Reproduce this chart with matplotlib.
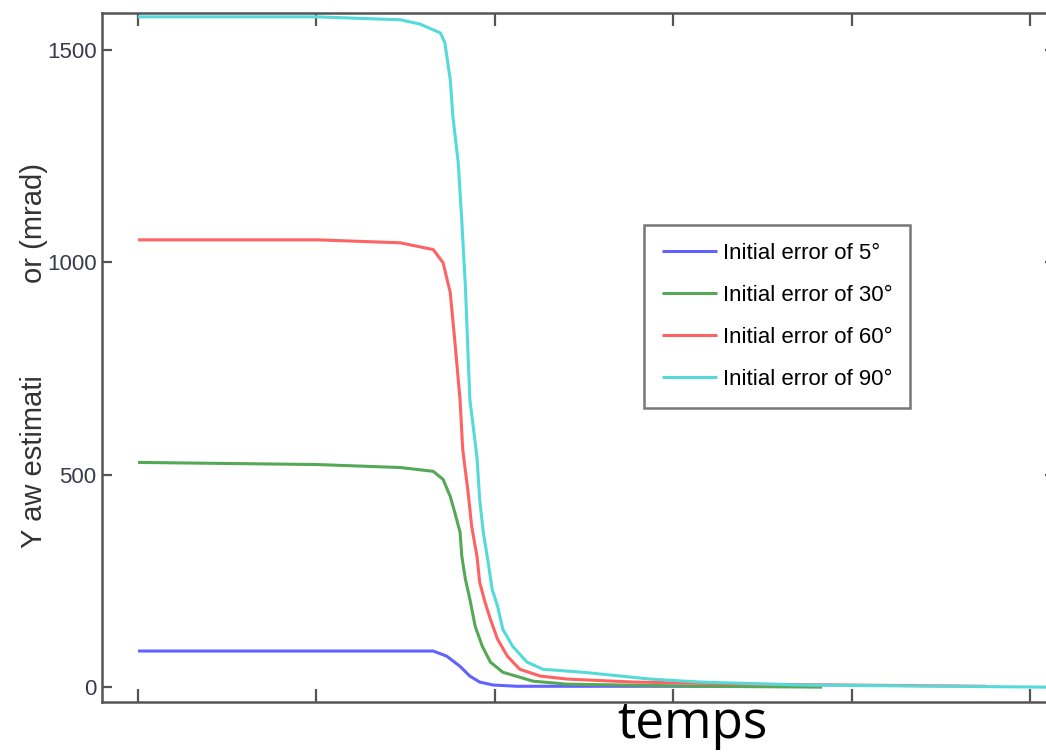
import matplotlib
matplotlib.use("Agg")
import matplotlib.pyplot as plt
from matplotlib import font_manager

# ---- data ----
t_cyan = [0, 20.1, 29.4, 31.6, 33.9, 34.4, 35.0, 35.3, 35.9, 36.3, 36.7, 37.2, 38.0, 38.3, 38.7,
          39.2, 39.7, 40.3, 40.9, 42.0, 43.6, 45.4, 49.9, 57.4, 63.0, 74.2, 101.8]
v_cyan = [1578, 1578, 1571, 1561, 1540, 1517, 1430, 1343, 1234, 1096, 943, 677, 541, 442, 365,
          301, 230, 191, 136, 96, 59, 42, 35, 19, 12, 5, 0]

t_red = [0, 20.1, 29.4, 33.1, 34.2, 35.0, 35.5, 36.1, 36.4, 37.0, 37.4, 38.0, 38.3, 38.9,
         39.5, 40.3, 41.4, 42.8, 45.1, 48.1, 55.5, 68.6, 95.1]
v_red = [1053, 1053, 1046, 1030, 999, 929, 818, 677, 560, 459, 379, 308, 247, 200,
         160, 113, 73, 42, 26, 19, 12, 7, 2]

t_green = [0, 20.1, 29.4, 33.1, 34.2, 35.0, 35.5, 36.1, 36.3, 36.7, 37.2, 37.8, 38.6, 39.5,
           40.9, 44.3, 48.1, 63.0, 76.7]
v_green = [529, 524, 517, 508, 489, 449, 412, 365, 308, 254, 207, 143, 96, 59,
           35, 14, 7, 2, 0]

t_blue = [0, 20.1, 33.1, 34.6, 36.1, 37.2, 38.3, 39.8, 42.5, 65.6]
v_blue = [85, 85, 85, 73, 49, 26, 12, 5, 2, 2]

labels = ["Initial error of 5°", "Initial error of 30°", "Initial error of 60°", "Initial error of 90°"]
colors = ["#6262ff", "#55a855", "#ff6262", "#55dada"]
xticks = [0, 20, 40, 60, 80, 100]
yticks = [0, 500, 1000, 1500]
ytick_labels = ["0", "500", "1000", "1500"]

names = {f.name for f in font_manager.fontManager.ttflist}
narrow = "Liberation Sans Narrow" if "Liberation Sans Narrow" in names else "Liberation Sans"

fig = plt.figure(figsize=(10.46, 7.52), dpi=100)
W, H = 1046, 752
ax_l, ax_r, ax_t, ax_b = 102, 1055, 13, 702
ax = fig.add_axes([ax_l / W, 1 - ax_b / H, (ax_r - ax_l) / W, (ax_b - ax_t) / H])

series = [(t_blue, v_blue), (t_green, v_green), (t_red, v_red), (t_cyan, v_cyan)]
for (t, v), c, lab in zip(series, colors, labels):
    ax.plot(t, v, color=c, lw=2.2, label=lab, solid_capstyle="butt")

ax.set_xlim(-4.04, 102.8)
ax.set_ylim(-35, 1587)
ax.set_xticks(xticks)
ax.set_xticklabels([])
ax.set_yticks(yticks)
ax.set_yticklabels(ytick_labels, family=narrow, fontsize=16, color="#3a3a4a")

for s in ax.spines.values():
    s.set_color("#555555")
    s.set_linewidth(1.8)

ax.tick_params(axis="x", direction="in", length=9.4, width=1.6, color="#555555", top=True, bottom=True)
ax.tick_params(axis="y", direction="in", length=7.2, width=1.6, color="#555555", left=True, right=True, pad=4)

leg = ax.legend(loc="upper left", bbox_to_anchor=((644 - ax_l) / (ax_r - ax_l), 1 - (225 - ax_t) / (ax_b - ax_t)),
                prop={"family": narrow, "size": 16}, frameon=True, fancybox=False,
                handlelength=2.5, handletextpad=0.25, labelspacing=0.95, borderpad=0.8, borderaxespad=0)
leg.get_frame().set_edgecolor("#555555")
leg.get_frame().set_linewidth(1.8)
for line in leg.get_lines():
    line.set_linewidth(2.2)

# y label, partly hidden in the reference
fig.text(34 / W, 1 - 548 / H, "Y aw estimati", rotation=90, ha="center", va="bottom",
         family="Liberation Sans", fontsize=21, color="#333333")
fig.text(34 / W, 1 - 163 / H, "or (mrad)", rotation=90, ha="center", va="top",
         family="Liberation Sans", fontsize=21, color="#333333")

fig.text(692 / W, 1 - 738 / H, "temps", ha="center", va="baseline", family="Open Sans", fontsize=37, color="black")

fig.savefig("out.png", dpi=100)
